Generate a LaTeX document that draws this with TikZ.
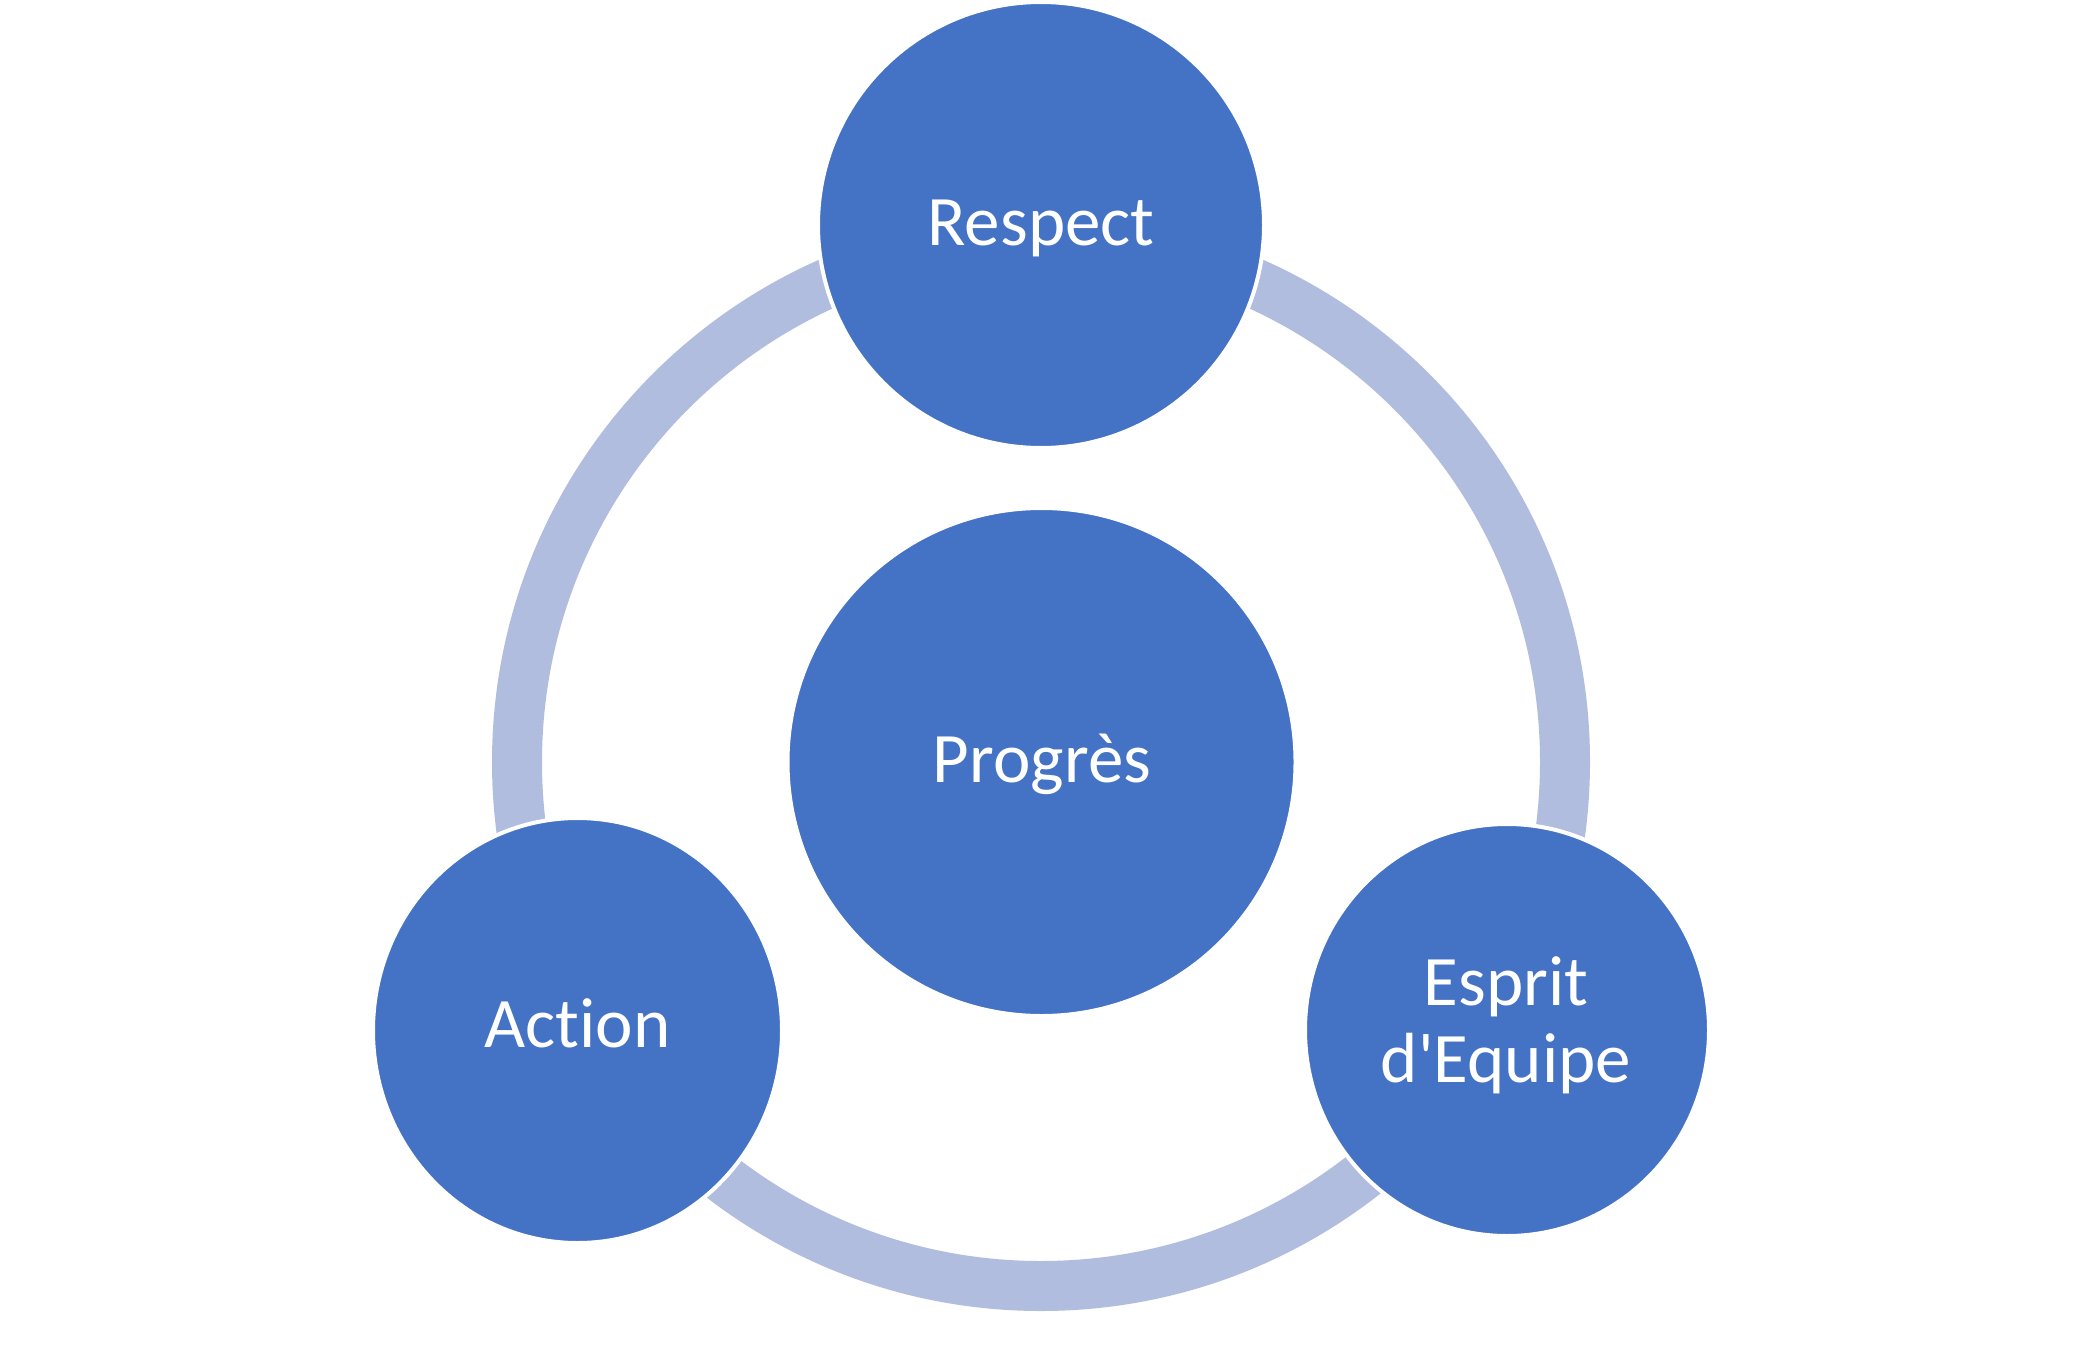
\documentclass[tikz,border=0pt]{standalone}
\usepackage{fontspec}
\setmainfont{Carlito}[Ligatures={CommonOff,TeXOff}]
\usetikzlibrary{shapes.geometric}
\definecolor{blobblue}{RGB}{68,114,196}
\definecolor{ringblue}{RGB}{177,189,223}
\tikzset{
  blob/.style={ellipse, fill=blobblue, draw=white, line width=4pt, inner sep=0pt},
  lbl/.style={text=white, font=\fontsize{71}{77}\selectfont, anchor=base, inner sep=0pt, align=center},
}
\begin{document}
\begin{tikzpicture}[x=1pt,y=-1pt]
\useasboundingbox (0,0) rectangle (2079,1359);
\fill[white] (0,0) rectangle (2079,1359);
% ring
\coordinate (ringc) at (1041,762);
\draw[ringblue, line width=50pt] (ringc) circle[radius=524];
% circles
\node[blob, minimum width=446pt, minimum height=446pt] (resp) at (1041,225) {};
\node[blob, minimum width=508pt, minimum height=508pt] (prog) at (1041.5,762) {};
\node[blob, minimum width=409pt, minimum height=425pt] (act) at (577.5,1030.5) {};
\node[blob, minimum width=404pt, minimum height=412pt] (esp) at (1507,1030) {};
% labels
\node[lbl] (tresp) at (1041,245) {Respect};
\node[lbl] (tprog) at (1042,782) {Progrès};
\node[lbl] (tact) at (577.5,1047) {Action};
\node[lbl] (tesp1) at (1506,1005) {Esprit};
\node[lbl] (tesp2) at (1506,1082) {d'Equipe};
\end{tikzpicture}
\end{document}
